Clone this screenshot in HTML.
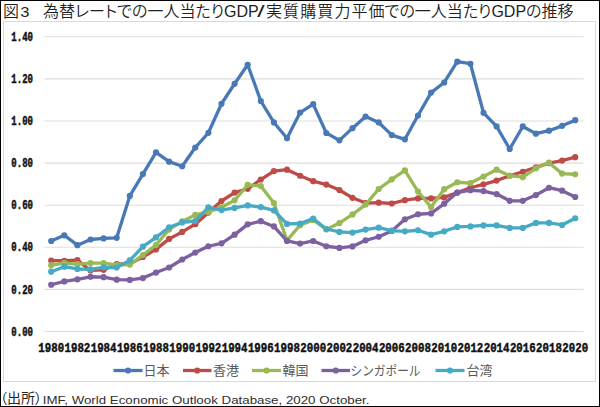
<!DOCTYPE html>
<html lang="ja"><head><meta charset="utf-8"><title>図3 為替レートでの一人当たりGDP/実質購買力平価での一人当たりGDPの推移</title>
<style>
html,body{margin:0;padding:0;background:#fff;}
body{width:600px;height:407px;overflow:hidden;position:relative;}
#frame{position:absolute;left:0;top:0;width:598px;height:405px;border:1px solid #000;}
svg{position:absolute;left:0;top:0;}
.ax{font-family:"Liberation Mono",monospace;font-weight:bold;font-size:12.1px;fill:#111;stroke:#111;stroke-width:0.45px;}
.lg{font-family:"Liberation Sans","Noto Sans CJK JP",sans-serif;font-size:13px;fill:#595959;}
.ti{font-family:"Liberation Sans","Noto Sans CJK JP",sans-serif;font-size:16px;font-weight:350;fill:#1f1f1f;font-feature-settings:"palt";}
.src{font-family:"Liberation Sans","Noto Sans CJK JP",sans-serif;font-size:14px;fill:#262626;font-feature-settings:"palt";}
.srcl{font-family:"Liberation Sans",sans-serif;font-size:10.6px;fill:#2e2e2e;}
</style></head><body>
<div id="frame"></div>
<svg width="600" height="407" viewBox="0 0 600 407">
<rect x="3.5" y="21.5" width="592" height="360" fill="none" stroke="#d9d9d9" stroke-width="1"/>
<text y="17" class="ti"><tspan x="3">図</tspan><tspan x="20.3" font-size="14.2" textLength="9.2" lengthAdjust="spacingAndGlyphs">3</tspan><tspan x="27">　為替レートでの一人当たりGDP</tspan><tspan x="257.2" font-size="17" textLength="7.4" lengthAdjust="spacingAndGlyphs">/</tspan><tspan x="266" letter-spacing="1.1">実質購買力平</tspan><tspan>価での一人当たりGDPの推移</tspan></text>
<line x1="44.5" y1="331.50" x2="583.7" y2="331.50" stroke="#dedede" stroke-width="1.1"/>
<line x1="44.5" y1="289.40" x2="583.7" y2="289.40" stroke="#dedede" stroke-width="1.1"/>
<line x1="44.5" y1="247.30" x2="583.7" y2="247.30" stroke="#dedede" stroke-width="1.1"/>
<line x1="44.5" y1="205.20" x2="583.7" y2="205.20" stroke="#dedede" stroke-width="1.1"/>
<line x1="44.5" y1="163.10" x2="583.7" y2="163.10" stroke="#dedede" stroke-width="1.1"/>
<line x1="44.5" y1="121.00" x2="583.7" y2="121.00" stroke="#dedede" stroke-width="1.1"/>
<line x1="44.5" y1="78.90" x2="583.7" y2="78.90" stroke="#dedede" stroke-width="1.1"/>
<line x1="44.5" y1="36.80" x2="583.7" y2="36.80" stroke="#dedede" stroke-width="1.1"/>
<text x="11.3" y="335.60" class="ax" textLength="21.7" lengthAdjust="spacingAndGlyphs">0.00</text>
<text x="11.3" y="293.50" class="ax" textLength="21.7" lengthAdjust="spacingAndGlyphs">0.20</text>
<text x="11.3" y="251.40" class="ax" textLength="21.7" lengthAdjust="spacingAndGlyphs">0.40</text>
<text x="11.3" y="209.30" class="ax" textLength="21.7" lengthAdjust="spacingAndGlyphs">0.60</text>
<text x="11.3" y="167.20" class="ax" textLength="21.7" lengthAdjust="spacingAndGlyphs">0.80</text>
<text x="11.3" y="125.10" class="ax" textLength="21.7" lengthAdjust="spacingAndGlyphs">1.00</text>
<text x="11.3" y="83.00" class="ax" textLength="21.7" lengthAdjust="spacingAndGlyphs">1.20</text>
<text x="11.3" y="40.90" class="ax" textLength="21.7" lengthAdjust="spacingAndGlyphs">1.40</text>
<text x="38.30" y="351.8" class="ax" textLength="25.8" lengthAdjust="spacingAndGlyphs">1980</text>
<text x="64.50" y="351.8" class="ax" textLength="25.8" lengthAdjust="spacingAndGlyphs">1982</text>
<text x="90.70" y="351.8" class="ax" textLength="25.8" lengthAdjust="spacingAndGlyphs">1984</text>
<text x="116.90" y="351.8" class="ax" textLength="25.8" lengthAdjust="spacingAndGlyphs">1986</text>
<text x="143.10" y="351.8" class="ax" textLength="25.8" lengthAdjust="spacingAndGlyphs">1988</text>
<text x="169.30" y="351.8" class="ax" textLength="25.8" lengthAdjust="spacingAndGlyphs">1990</text>
<text x="195.50" y="351.8" class="ax" textLength="25.8" lengthAdjust="spacingAndGlyphs">1992</text>
<text x="221.70" y="351.8" class="ax" textLength="25.8" lengthAdjust="spacingAndGlyphs">1994</text>
<text x="247.90" y="351.8" class="ax" textLength="25.8" lengthAdjust="spacingAndGlyphs">1996</text>
<text x="274.10" y="351.8" class="ax" textLength="25.8" lengthAdjust="spacingAndGlyphs">1998</text>
<text x="300.30" y="351.8" class="ax" textLength="25.8" lengthAdjust="spacingAndGlyphs">2000</text>
<text x="326.50" y="351.8" class="ax" textLength="25.8" lengthAdjust="spacingAndGlyphs">2002</text>
<text x="352.70" y="351.8" class="ax" textLength="25.8" lengthAdjust="spacingAndGlyphs">2004</text>
<text x="378.90" y="351.8" class="ax" textLength="25.8" lengthAdjust="spacingAndGlyphs">2006</text>
<text x="405.10" y="351.8" class="ax" textLength="25.8" lengthAdjust="spacingAndGlyphs">2008</text>
<text x="431.30" y="351.8" class="ax" textLength="25.8" lengthAdjust="spacingAndGlyphs">2010</text>
<text x="457.50" y="351.8" class="ax" textLength="25.8" lengthAdjust="spacingAndGlyphs">2012</text>
<text x="483.70" y="351.8" class="ax" textLength="25.8" lengthAdjust="spacingAndGlyphs">2014</text>
<text x="509.90" y="351.8" class="ax" textLength="25.8" lengthAdjust="spacingAndGlyphs">2016</text>
<text x="536.10" y="351.8" class="ax" textLength="25.8" lengthAdjust="spacingAndGlyphs">2018</text>
<text x="562.30" y="351.8" class="ax" textLength="25.8" lengthAdjust="spacingAndGlyphs">2020</text>
<polyline points="51.20,240.99 64.30,235.30 77.40,245.19 90.50,239.51 103.60,238.46 116.70,237.83 129.80,195.94 142.90,174.05 156.00,152.36 169.10,161.63 182.20,166.26 195.30,147.52 208.40,132.79 221.50,103.74 234.60,83.74 247.70,64.80 260.80,101.00 273.90,122.47 287.00,138.26 300.10,112.58 313.20,104.16 326.30,133.00 339.40,140.37 352.50,128.16 365.60,116.58 378.70,122.47 391.80,135.10 404.90,139.31 418.00,115.53 431.10,92.58 444.20,82.48 457.30,61.64 470.40,63.74 483.50,112.79 496.60,126.47 509.70,149.00 522.80,126.47 535.90,133.63 549.00,130.68 562.10,125.84 575.20,120.16" fill="none" stroke="#4879b6" stroke-width="3.3" stroke-linejoin="round" stroke-linecap="round"/>
<circle cx="51.20" cy="240.99" r="3.1" fill="#4879b6"/><circle cx="64.30" cy="235.30" r="3.1" fill="#4879b6"/><circle cx="77.40" cy="245.19" r="3.1" fill="#4879b6"/><circle cx="90.50" cy="239.51" r="3.1" fill="#4879b6"/><circle cx="103.60" cy="238.46" r="3.1" fill="#4879b6"/><circle cx="116.70" cy="237.83" r="3.1" fill="#4879b6"/><circle cx="129.80" cy="195.94" r="3.1" fill="#4879b6"/><circle cx="142.90" cy="174.05" r="3.1" fill="#4879b6"/><circle cx="156.00" cy="152.36" r="3.1" fill="#4879b6"/><circle cx="169.10" cy="161.63" r="3.1" fill="#4879b6"/><circle cx="182.20" cy="166.26" r="3.1" fill="#4879b6"/><circle cx="195.30" cy="147.52" r="3.1" fill="#4879b6"/><circle cx="208.40" cy="132.79" r="3.1" fill="#4879b6"/><circle cx="221.50" cy="103.74" r="3.1" fill="#4879b6"/><circle cx="234.60" cy="83.74" r="3.1" fill="#4879b6"/><circle cx="247.70" cy="64.80" r="3.1" fill="#4879b6"/><circle cx="260.80" cy="101.00" r="3.1" fill="#4879b6"/><circle cx="273.90" cy="122.47" r="3.1" fill="#4879b6"/><circle cx="287.00" cy="138.26" r="3.1" fill="#4879b6"/><circle cx="300.10" cy="112.58" r="3.1" fill="#4879b6"/><circle cx="313.20" cy="104.16" r="3.1" fill="#4879b6"/><circle cx="326.30" cy="133.00" r="3.1" fill="#4879b6"/><circle cx="339.40" cy="140.37" r="3.1" fill="#4879b6"/><circle cx="352.50" cy="128.16" r="3.1" fill="#4879b6"/><circle cx="365.60" cy="116.58" r="3.1" fill="#4879b6"/><circle cx="378.70" cy="122.47" r="3.1" fill="#4879b6"/><circle cx="391.80" cy="135.10" r="3.1" fill="#4879b6"/><circle cx="404.90" cy="139.31" r="3.1" fill="#4879b6"/><circle cx="418.00" cy="115.53" r="3.1" fill="#4879b6"/><circle cx="431.10" cy="92.58" r="3.1" fill="#4879b6"/><circle cx="444.20" cy="82.48" r="3.1" fill="#4879b6"/><circle cx="457.30" cy="61.64" r="3.1" fill="#4879b6"/><circle cx="470.40" cy="63.74" r="3.1" fill="#4879b6"/><circle cx="483.50" cy="112.79" r="3.1" fill="#4879b6"/><circle cx="496.60" cy="126.47" r="3.1" fill="#4879b6"/><circle cx="509.70" cy="149.00" r="3.1" fill="#4879b6"/><circle cx="522.80" cy="126.47" r="3.1" fill="#4879b6"/><circle cx="535.90" cy="133.63" r="3.1" fill="#4879b6"/><circle cx="549.00" cy="130.68" r="3.1" fill="#4879b6"/><circle cx="562.10" cy="125.84" r="3.1" fill="#4879b6"/><circle cx="575.20" cy="120.16" r="3.1" fill="#4879b6"/>
<polyline points="51.20,260.56 64.30,260.77 77.40,260.14 90.50,270.45 103.60,269.82 116.70,264.14 129.80,263.72 142.90,256.98 156.00,249.41 169.10,238.88 182.20,231.93 195.30,224.14 208.40,212.57 221.50,200.99 234.60,192.57 247.70,188.78 260.80,179.52 273.90,171.10 287.00,169.63 300.10,175.73 313.20,181.20 326.30,184.57 339.40,190.04 352.50,197.83 365.60,203.09 378.70,202.67 391.80,203.52 404.90,200.15 418.00,198.46 431.10,198.46 444.20,197.41 457.30,192.57 470.40,187.73 483.50,184.36 496.60,180.57 509.70,175.73 522.80,171.73 535.90,167.31 549.00,163.10 562.10,160.57 575.20,157.21" fill="none" stroke="#be4b48" stroke-width="3.3" stroke-linejoin="round" stroke-linecap="round"/>
<circle cx="51.20" cy="260.56" r="3.1" fill="#be4b48"/><circle cx="64.30" cy="260.77" r="3.1" fill="#be4b48"/><circle cx="77.40" cy="260.14" r="3.1" fill="#be4b48"/><circle cx="90.50" cy="270.45" r="3.1" fill="#be4b48"/><circle cx="103.60" cy="269.82" r="3.1" fill="#be4b48"/><circle cx="116.70" cy="264.14" r="3.1" fill="#be4b48"/><circle cx="129.80" cy="263.72" r="3.1" fill="#be4b48"/><circle cx="142.90" cy="256.98" r="3.1" fill="#be4b48"/><circle cx="156.00" cy="249.41" r="3.1" fill="#be4b48"/><circle cx="169.10" cy="238.88" r="3.1" fill="#be4b48"/><circle cx="182.20" cy="231.93" r="3.1" fill="#be4b48"/><circle cx="195.30" cy="224.14" r="3.1" fill="#be4b48"/><circle cx="208.40" cy="212.57" r="3.1" fill="#be4b48"/><circle cx="221.50" cy="200.99" r="3.1" fill="#be4b48"/><circle cx="234.60" cy="192.57" r="3.1" fill="#be4b48"/><circle cx="247.70" cy="188.78" r="3.1" fill="#be4b48"/><circle cx="260.80" cy="179.52" r="3.1" fill="#be4b48"/><circle cx="273.90" cy="171.10" r="3.1" fill="#be4b48"/><circle cx="287.00" cy="169.63" r="3.1" fill="#be4b48"/><circle cx="300.10" cy="175.73" r="3.1" fill="#be4b48"/><circle cx="313.20" cy="181.20" r="3.1" fill="#be4b48"/><circle cx="326.30" cy="184.57" r="3.1" fill="#be4b48"/><circle cx="339.40" cy="190.04" r="3.1" fill="#be4b48"/><circle cx="352.50" cy="197.83" r="3.1" fill="#be4b48"/><circle cx="365.60" cy="203.09" r="3.1" fill="#be4b48"/><circle cx="378.70" cy="202.67" r="3.1" fill="#be4b48"/><circle cx="391.80" cy="203.52" r="3.1" fill="#be4b48"/><circle cx="404.90" cy="200.15" r="3.1" fill="#be4b48"/><circle cx="418.00" cy="198.46" r="3.1" fill="#be4b48"/><circle cx="431.10" cy="198.46" r="3.1" fill="#be4b48"/><circle cx="444.20" cy="197.41" r="3.1" fill="#be4b48"/><circle cx="457.30" cy="192.57" r="3.1" fill="#be4b48"/><circle cx="470.40" cy="187.73" r="3.1" fill="#be4b48"/><circle cx="483.50" cy="184.36" r="3.1" fill="#be4b48"/><circle cx="496.60" cy="180.57" r="3.1" fill="#be4b48"/><circle cx="509.70" cy="175.73" r="3.1" fill="#be4b48"/><circle cx="522.80" cy="171.73" r="3.1" fill="#be4b48"/><circle cx="535.90" cy="167.31" r="3.1" fill="#be4b48"/><circle cx="549.00" cy="163.10" r="3.1" fill="#be4b48"/><circle cx="562.10" cy="160.57" r="3.1" fill="#be4b48"/><circle cx="575.20" cy="157.21" r="3.1" fill="#be4b48"/>
<polyline points="51.20,265.19 64.30,263.09 77.40,264.14 90.50,263.09 103.60,263.09 116.70,264.98 129.80,264.56 142.90,255.09 156.00,244.98 169.10,229.41 182.20,221.41 195.30,214.88 208.40,211.94 221.50,207.31 234.60,200.36 247.70,184.78 260.80,186.04 273.90,203.09 287.00,240.35 300.10,225.20 313.20,219.94 326.30,229.41 339.40,223.09 352.50,214.46 365.60,204.57 378.70,188.99 391.80,179.31 404.90,170.47 418.00,191.52 431.10,207.09 444.20,189.20 457.30,182.26 470.40,183.10 483.50,176.57 496.60,169.63 509.70,175.73 522.80,177.20 535.90,168.36 549.00,162.68 562.10,173.62 575.20,174.26" fill="none" stroke="#98b954" stroke-width="3.3" stroke-linejoin="round" stroke-linecap="round"/>
<circle cx="51.20" cy="265.19" r="3.1" fill="#98b954"/><circle cx="64.30" cy="263.09" r="3.1" fill="#98b954"/><circle cx="77.40" cy="264.14" r="3.1" fill="#98b954"/><circle cx="90.50" cy="263.09" r="3.1" fill="#98b954"/><circle cx="103.60" cy="263.09" r="3.1" fill="#98b954"/><circle cx="116.70" cy="264.98" r="3.1" fill="#98b954"/><circle cx="129.80" cy="264.56" r="3.1" fill="#98b954"/><circle cx="142.90" cy="255.09" r="3.1" fill="#98b954"/><circle cx="156.00" cy="244.98" r="3.1" fill="#98b954"/><circle cx="169.10" cy="229.41" r="3.1" fill="#98b954"/><circle cx="182.20" cy="221.41" r="3.1" fill="#98b954"/><circle cx="195.30" cy="214.88" r="3.1" fill="#98b954"/><circle cx="208.40" cy="211.94" r="3.1" fill="#98b954"/><circle cx="221.50" cy="207.31" r="3.1" fill="#98b954"/><circle cx="234.60" cy="200.36" r="3.1" fill="#98b954"/><circle cx="247.70" cy="184.78" r="3.1" fill="#98b954"/><circle cx="260.80" cy="186.04" r="3.1" fill="#98b954"/><circle cx="273.90" cy="203.09" r="3.1" fill="#98b954"/><circle cx="287.00" cy="240.35" r="3.1" fill="#98b954"/><circle cx="300.10" cy="225.20" r="3.1" fill="#98b954"/><circle cx="313.20" cy="219.94" r="3.1" fill="#98b954"/><circle cx="326.30" cy="229.41" r="3.1" fill="#98b954"/><circle cx="339.40" cy="223.09" r="3.1" fill="#98b954"/><circle cx="352.50" cy="214.46" r="3.1" fill="#98b954"/><circle cx="365.60" cy="204.57" r="3.1" fill="#98b954"/><circle cx="378.70" cy="188.99" r="3.1" fill="#98b954"/><circle cx="391.80" cy="179.31" r="3.1" fill="#98b954"/><circle cx="404.90" cy="170.47" r="3.1" fill="#98b954"/><circle cx="418.00" cy="191.52" r="3.1" fill="#98b954"/><circle cx="431.10" cy="207.09" r="3.1" fill="#98b954"/><circle cx="444.20" cy="189.20" r="3.1" fill="#98b954"/><circle cx="457.30" cy="182.26" r="3.1" fill="#98b954"/><circle cx="470.40" cy="183.10" r="3.1" fill="#98b954"/><circle cx="483.50" cy="176.57" r="3.1" fill="#98b954"/><circle cx="496.60" cy="169.63" r="3.1" fill="#98b954"/><circle cx="509.70" cy="175.73" r="3.1" fill="#98b954"/><circle cx="522.80" cy="177.20" r="3.1" fill="#98b954"/><circle cx="535.90" cy="168.36" r="3.1" fill="#98b954"/><circle cx="549.00" cy="162.68" r="3.1" fill="#98b954"/><circle cx="562.10" cy="173.62" r="3.1" fill="#98b954"/><circle cx="575.20" cy="174.26" r="3.1" fill="#98b954"/>
<polyline points="51.20,284.77 64.30,281.40 77.40,279.30 90.50,276.77 103.60,277.19 116.70,279.72 129.80,279.93 142.90,278.03 156.00,272.56 169.10,267.51 182.20,259.51 195.30,252.56 208.40,246.25 221.50,243.30 234.60,234.67 247.70,224.36 260.80,221.20 273.90,226.46 287.00,240.99 300.10,243.51 313.20,240.99 326.30,246.25 339.40,247.93 352.50,246.46 365.60,240.35 378.70,236.77 391.80,230.88 404.90,219.30 418.00,214.25 431.10,213.41 444.20,203.73 457.30,192.57 470.40,190.25 483.50,191.10 496.60,194.04 509.70,200.78 522.80,200.78 535.90,195.10 549.00,187.73 562.10,190.68 575.20,196.99" fill="none" stroke="#7d60a0" stroke-width="3.3" stroke-linejoin="round" stroke-linecap="round"/>
<circle cx="51.20" cy="284.77" r="3.1" fill="#7d60a0"/><circle cx="64.30" cy="281.40" r="3.1" fill="#7d60a0"/><circle cx="77.40" cy="279.30" r="3.1" fill="#7d60a0"/><circle cx="90.50" cy="276.77" r="3.1" fill="#7d60a0"/><circle cx="103.60" cy="277.19" r="3.1" fill="#7d60a0"/><circle cx="116.70" cy="279.72" r="3.1" fill="#7d60a0"/><circle cx="129.80" cy="279.93" r="3.1" fill="#7d60a0"/><circle cx="142.90" cy="278.03" r="3.1" fill="#7d60a0"/><circle cx="156.00" cy="272.56" r="3.1" fill="#7d60a0"/><circle cx="169.10" cy="267.51" r="3.1" fill="#7d60a0"/><circle cx="182.20" cy="259.51" r="3.1" fill="#7d60a0"/><circle cx="195.30" cy="252.56" r="3.1" fill="#7d60a0"/><circle cx="208.40" cy="246.25" r="3.1" fill="#7d60a0"/><circle cx="221.50" cy="243.30" r="3.1" fill="#7d60a0"/><circle cx="234.60" cy="234.67" r="3.1" fill="#7d60a0"/><circle cx="247.70" cy="224.36" r="3.1" fill="#7d60a0"/><circle cx="260.80" cy="221.20" r="3.1" fill="#7d60a0"/><circle cx="273.90" cy="226.46" r="3.1" fill="#7d60a0"/><circle cx="287.00" cy="240.99" r="3.1" fill="#7d60a0"/><circle cx="300.10" cy="243.51" r="3.1" fill="#7d60a0"/><circle cx="313.20" cy="240.99" r="3.1" fill="#7d60a0"/><circle cx="326.30" cy="246.25" r="3.1" fill="#7d60a0"/><circle cx="339.40" cy="247.93" r="3.1" fill="#7d60a0"/><circle cx="352.50" cy="246.46" r="3.1" fill="#7d60a0"/><circle cx="365.60" cy="240.35" r="3.1" fill="#7d60a0"/><circle cx="378.70" cy="236.77" r="3.1" fill="#7d60a0"/><circle cx="391.80" cy="230.88" r="3.1" fill="#7d60a0"/><circle cx="404.90" cy="219.30" r="3.1" fill="#7d60a0"/><circle cx="418.00" cy="214.25" r="3.1" fill="#7d60a0"/><circle cx="431.10" cy="213.41" r="3.1" fill="#7d60a0"/><circle cx="444.20" cy="203.73" r="3.1" fill="#7d60a0"/><circle cx="457.30" cy="192.57" r="3.1" fill="#7d60a0"/><circle cx="470.40" cy="190.25" r="3.1" fill="#7d60a0"/><circle cx="483.50" cy="191.10" r="3.1" fill="#7d60a0"/><circle cx="496.60" cy="194.04" r="3.1" fill="#7d60a0"/><circle cx="509.70" cy="200.78" r="3.1" fill="#7d60a0"/><circle cx="522.80" cy="200.78" r="3.1" fill="#7d60a0"/><circle cx="535.90" cy="195.10" r="3.1" fill="#7d60a0"/><circle cx="549.00" cy="187.73" r="3.1" fill="#7d60a0"/><circle cx="562.10" cy="190.68" r="3.1" fill="#7d60a0"/><circle cx="575.20" cy="196.99" r="3.1" fill="#7d60a0"/>
<polyline points="51.20,271.72 64.30,266.67 77.40,268.98 90.50,269.40 103.60,267.30 116.70,267.51 129.80,260.35 142.90,246.67 156.00,237.41 169.10,227.30 182.20,222.46 195.30,220.99 208.40,207.31 221.50,210.04 234.60,207.94 247.70,205.41 260.80,207.09 273.90,210.46 287.00,223.93 300.10,223.51 313.20,218.67 326.30,228.99 339.40,231.93 352.50,232.56 365.60,229.62 378.70,227.72 391.80,230.67 404.90,231.30 418.00,230.25 431.10,234.67 444.20,231.30 457.30,226.88 470.40,226.46 483.50,225.41 496.60,225.41 509.70,227.93 522.80,227.93 535.90,222.88 549.00,222.88 562.10,224.99 575.20,218.25" fill="none" stroke="#46aac5" stroke-width="3.3" stroke-linejoin="round" stroke-linecap="round"/>
<circle cx="51.20" cy="271.72" r="3.1" fill="#46aac5"/><circle cx="64.30" cy="266.67" r="3.1" fill="#46aac5"/><circle cx="77.40" cy="268.98" r="3.1" fill="#46aac5"/><circle cx="90.50" cy="269.40" r="3.1" fill="#46aac5"/><circle cx="103.60" cy="267.30" r="3.1" fill="#46aac5"/><circle cx="116.70" cy="267.51" r="3.1" fill="#46aac5"/><circle cx="129.80" cy="260.35" r="3.1" fill="#46aac5"/><circle cx="142.90" cy="246.67" r="3.1" fill="#46aac5"/><circle cx="156.00" cy="237.41" r="3.1" fill="#46aac5"/><circle cx="169.10" cy="227.30" r="3.1" fill="#46aac5"/><circle cx="182.20" cy="222.46" r="3.1" fill="#46aac5"/><circle cx="195.30" cy="220.99" r="3.1" fill="#46aac5"/><circle cx="208.40" cy="207.31" r="3.1" fill="#46aac5"/><circle cx="221.50" cy="210.04" r="3.1" fill="#46aac5"/><circle cx="234.60" cy="207.94" r="3.1" fill="#46aac5"/><circle cx="247.70" cy="205.41" r="3.1" fill="#46aac5"/><circle cx="260.80" cy="207.09" r="3.1" fill="#46aac5"/><circle cx="273.90" cy="210.46" r="3.1" fill="#46aac5"/><circle cx="287.00" cy="223.93" r="3.1" fill="#46aac5"/><circle cx="300.10" cy="223.51" r="3.1" fill="#46aac5"/><circle cx="313.20" cy="218.67" r="3.1" fill="#46aac5"/><circle cx="326.30" cy="228.99" r="3.1" fill="#46aac5"/><circle cx="339.40" cy="231.93" r="3.1" fill="#46aac5"/><circle cx="352.50" cy="232.56" r="3.1" fill="#46aac5"/><circle cx="365.60" cy="229.62" r="3.1" fill="#46aac5"/><circle cx="378.70" cy="227.72" r="3.1" fill="#46aac5"/><circle cx="391.80" cy="230.67" r="3.1" fill="#46aac5"/><circle cx="404.90" cy="231.30" r="3.1" fill="#46aac5"/><circle cx="418.00" cy="230.25" r="3.1" fill="#46aac5"/><circle cx="431.10" cy="234.67" r="3.1" fill="#46aac5"/><circle cx="444.20" cy="231.30" r="3.1" fill="#46aac5"/><circle cx="457.30" cy="226.88" r="3.1" fill="#46aac5"/><circle cx="470.40" cy="226.46" r="3.1" fill="#46aac5"/><circle cx="483.50" cy="225.41" r="3.1" fill="#46aac5"/><circle cx="496.60" cy="225.41" r="3.1" fill="#46aac5"/><circle cx="509.70" cy="227.93" r="3.1" fill="#46aac5"/><circle cx="522.80" cy="227.93" r="3.1" fill="#46aac5"/><circle cx="535.90" cy="222.88" r="3.1" fill="#46aac5"/><circle cx="549.00" cy="222.88" r="3.1" fill="#46aac5"/><circle cx="562.10" cy="224.99" r="3.1" fill="#46aac5"/><circle cx="575.20" cy="218.25" r="3.1" fill="#46aac5"/>
<line x1="113.5" y1="370.5" x2="142.5" y2="370.5" stroke="#4879b6" stroke-width="3.3"/>
<circle cx="128.0" cy="370.5" r="3.1" fill="#4879b6"/>
<text x="143.5" y="374.8" class="lg">日本</text>
<line x1="183" y1="370.5" x2="211.5" y2="370.5" stroke="#be4b48" stroke-width="3.3"/>
<circle cx="197.2" cy="370.5" r="3.1" fill="#be4b48"/>
<text x="213" y="374.8" class="lg">香港</text>
<line x1="252" y1="370.5" x2="281" y2="370.5" stroke="#98b954" stroke-width="3.3"/>
<circle cx="266.5" cy="370.5" r="3.1" fill="#98b954"/>
<text x="282.5" y="374.8" class="lg">韓国</text>
<line x1="321.5" y1="370.5" x2="350" y2="370.5" stroke="#7d60a0" stroke-width="3.3"/>
<circle cx="335.8" cy="370.5" r="3.1" fill="#7d60a0"/>
<text x="350.5" y="374.8" class="lg" textLength="70" lengthAdjust="spacingAndGlyphs">シンガポール</text>
<line x1="435.5" y1="370.5" x2="464.5" y2="370.5" stroke="#46aac5" stroke-width="3.3"/>
<circle cx="450.0" cy="370.5" r="3.1" fill="#46aac5"/>
<text x="466.5" y="374.8" class="lg">台湾</text>
<text y="403" class="src"><tspan x="0" font-feature-settings="palt">（出所）</tspan><tspan class="srcl" x="42.8" dy="0.6" textLength="326.7" lengthAdjust="spacingAndGlyphs">IMF, World Economic Outlook Database, 2020 October.</tspan></text>
</svg>
</body></html>
